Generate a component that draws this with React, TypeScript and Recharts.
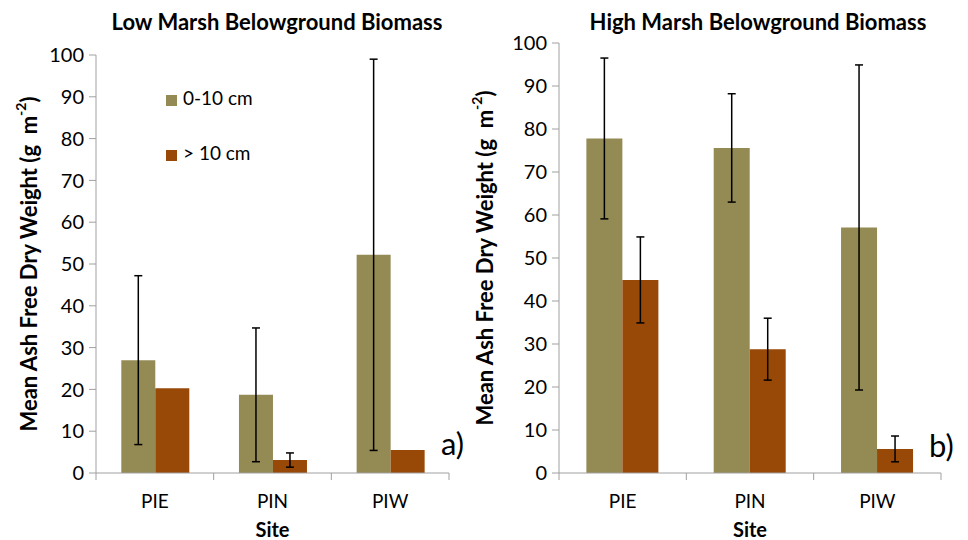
import React from 'react';
import { BarChart, Bar, XAxis, YAxis, ErrorBar, Legend, Label } from 'recharts';

const sites = ['PIE', 'PIN', 'PIW'];

// low marsh, 0-10 cm and > 10 cm, with standard errors
const lowShallow = [27.0, 18.7, 52.2];
const lowShallowErr = [20.2, 16.0, 46.8];
const lowDeep = [20.3, 3.1, 5.5];
const lowDeepErr = [null, 1.7, null];

// high marsh
const highShallow = [77.8, 75.6, 57.1];
const highShallowErr = [18.7, 12.6, 37.8];
const highDeep = [44.9, 28.8, 5.6];
const highDeepErr = [10.0, 7.2, 3.0];

const yTicks = [0, 10, 20, 30, 40, 50, 60, 70, 80, 90, 100];

const GREEN = '#948A54';
const BROWN = '#984807';
const AXIS = '#A0A0A0';
const FONT = 'Lato, "Open Sans", sans-serif';

const lowData = sites.map((site, i) => ({
  site,
  shallow: lowShallow[i],
  shallowErr: lowShallowErr[i],
  deep: lowDeep[i],
  deepErr: lowDeepErr[i],
}));

const highData = sites.map((site, i) => ({
  site,
  shallow: highShallow[i],
  shallowErr: highShallowErr[i],
  deep: highDeep[i],
  deepErr: highDeepErr[i],
}));

// category tick: label in the middle, tick marks on the band edges
const SiteTick = (props: any) => {
  const { x, y, payload, width, visibleTicksCount, index } = props;
  const band = width / visibleTicksCount;
  return (
    <g>
      <line x1={x - band / 2} x2={x - band / 2} y1={y} y2={y + 7} stroke={AXIS} />
      {index === visibleTicksCount - 1 && (
        <line x1={x + band / 2} x2={x + band / 2} y1={y} y2={y + 7} stroke={AXIS} />
      )}
      <text x={x} y={y + 35} textAnchor="middle" fontSize={19} fill="#000" fontFamily={FONT}>
        {payload.value}
      </text>
    </g>
  );
};

const YTitle = (props: any) => {
  const { viewBox, gap } = props;
  const cx = viewBox.x + viewBox.width - gap;
  const cy = viewBox.y + viewBox.height / 2;
  return (
    <text
      x={cx}
      y={cy}
      transform={`rotate(-90 ${cx} ${cy})`}
      textAnchor="middle"
      dominantBaseline="central"
      fontSize={22}
      fontWeight="bold"
      fill="#000"
      fontFamily={FONT}
      style={{ whiteSpace: 'pre' }}
    >
      Mean Ash Free Dry Weight (g  m
      <tspan dy={-8} fontSize={14}>-2</tspan>
      <tspan dy={8}>)</tspan>
    </text>
  );
};

interface PanelProps {
  data: any[];
  width: number;
  top: number;
  right: number;
  yWidth: number;
  gap: number;
  showLegend?: boolean;
}

function Panel({ data, width, top, right, yWidth, gap, showLegend }: PanelProps) {
  return (
    <BarChart
      width={width}
      height={540}
      data={data}
      margin={{ top, right, bottom: 0, left: 0 }}
      barCategoryGap="21.5%"
      barGap={0}
    >
      <XAxis
        dataKey="site"
        height={67}
        axisLine={{ stroke: AXIS }}
        tickLine={false}
        tickSize={0}
        tickMargin={0}
        tick={<SiteTick />}
        interval={0}
        label={{ value: 'Site', position: 'insideBottom', offset: 3, fontSize: 20, fontWeight: 'bold', fill: '#000', fontFamily: FONT }}
      />
      <YAxis
        width={yWidth}
        domain={[0, 100]}
        ticks={yTicks}
        interval={0}
        axisLine={{ stroke: AXIS }}
        tickLine={{ stroke: AXIS }}
        tickSize={7}
        tickMargin={5}
        tick={{ fontSize: 20, fill: '#000', fontFamily: FONT }}
      >
        <Label content={(p: any) => <YTitle {...p} gap={gap} />} />
      </YAxis>
      {showLegend && (
        <Legend
          layout="vertical"
          align="center"
          verticalAlign="middle"
          iconType="square"
          iconSize={11}
          wrapperStyle={{ top: 71, left: 166, lineHeight: '54px', fontFamily: FONT }}
          formatter={(value: string) => (
            <span style={{ color: '#000', fontSize: 19, marginLeft: 2 }}>{value}</span>
          )}
        />
      )}
      <Bar dataKey="shallow" name="0-10 cm" fill={GREEN} isAnimationActive={false}>
        <ErrorBar dataKey="shallowErr" width={4} stroke="#000" strokeWidth={1.5} direction="y" />
      </Bar>
      <Bar dataKey="deep" name="> 10 cm" fill={BROWN} isAnimationActive={false}>
        <ErrorBar dataKey="deepErr" width={4} stroke="#000" strokeWidth={1.5} direction="y" />
      </Bar>
    </BarChart>
  );
}

const titleStyle: React.CSSProperties = {
  position: 'absolute',
  top: 7,
  width: 440,
  textAlign: 'center',
  fontFamily: FONT,
  fontWeight: 'bold',
  fontSize: 22,
  color: '#000',
  lineHeight: '30px',
};

const tagStyle: React.CSSProperties = {
  position: 'absolute',
  fontFamily: FONT,
  fontSize: 31,
  color: '#000',
  lineHeight: '36px',
};

export default function App() {
  return (
    <div style={{ position: 'absolute', left: 0, top: 0, width: 968, height: 540, background: '#fff' }}>
      <div style={{ position: 'absolute', left: 0, top: 0 }}>
        <Panel data={lowData} width={480} top={55} right={31} yWidth={96} gap={68} showLegend />
      </div>
      <div style={{ position: 'absolute', left: 455, top: 0 }}>
        <Panel data={highData} width={513} top={43} right={27} yWidth={104} gap={75} />
      </div>
      <div style={{ ...titleStyle, left: 57 }}>Low Marsh Belowground Biomass</div>
      <div style={{ ...titleStyle, left: 538 }}>High Marsh Belowground Biomass</div>
      <div style={{ ...tagStyle, left: 441, top: 425 }}>a)</div>
      <div style={{ ...tagStyle, left: 929, top: 427 }}>b)</div>
    </div>
  );
}
